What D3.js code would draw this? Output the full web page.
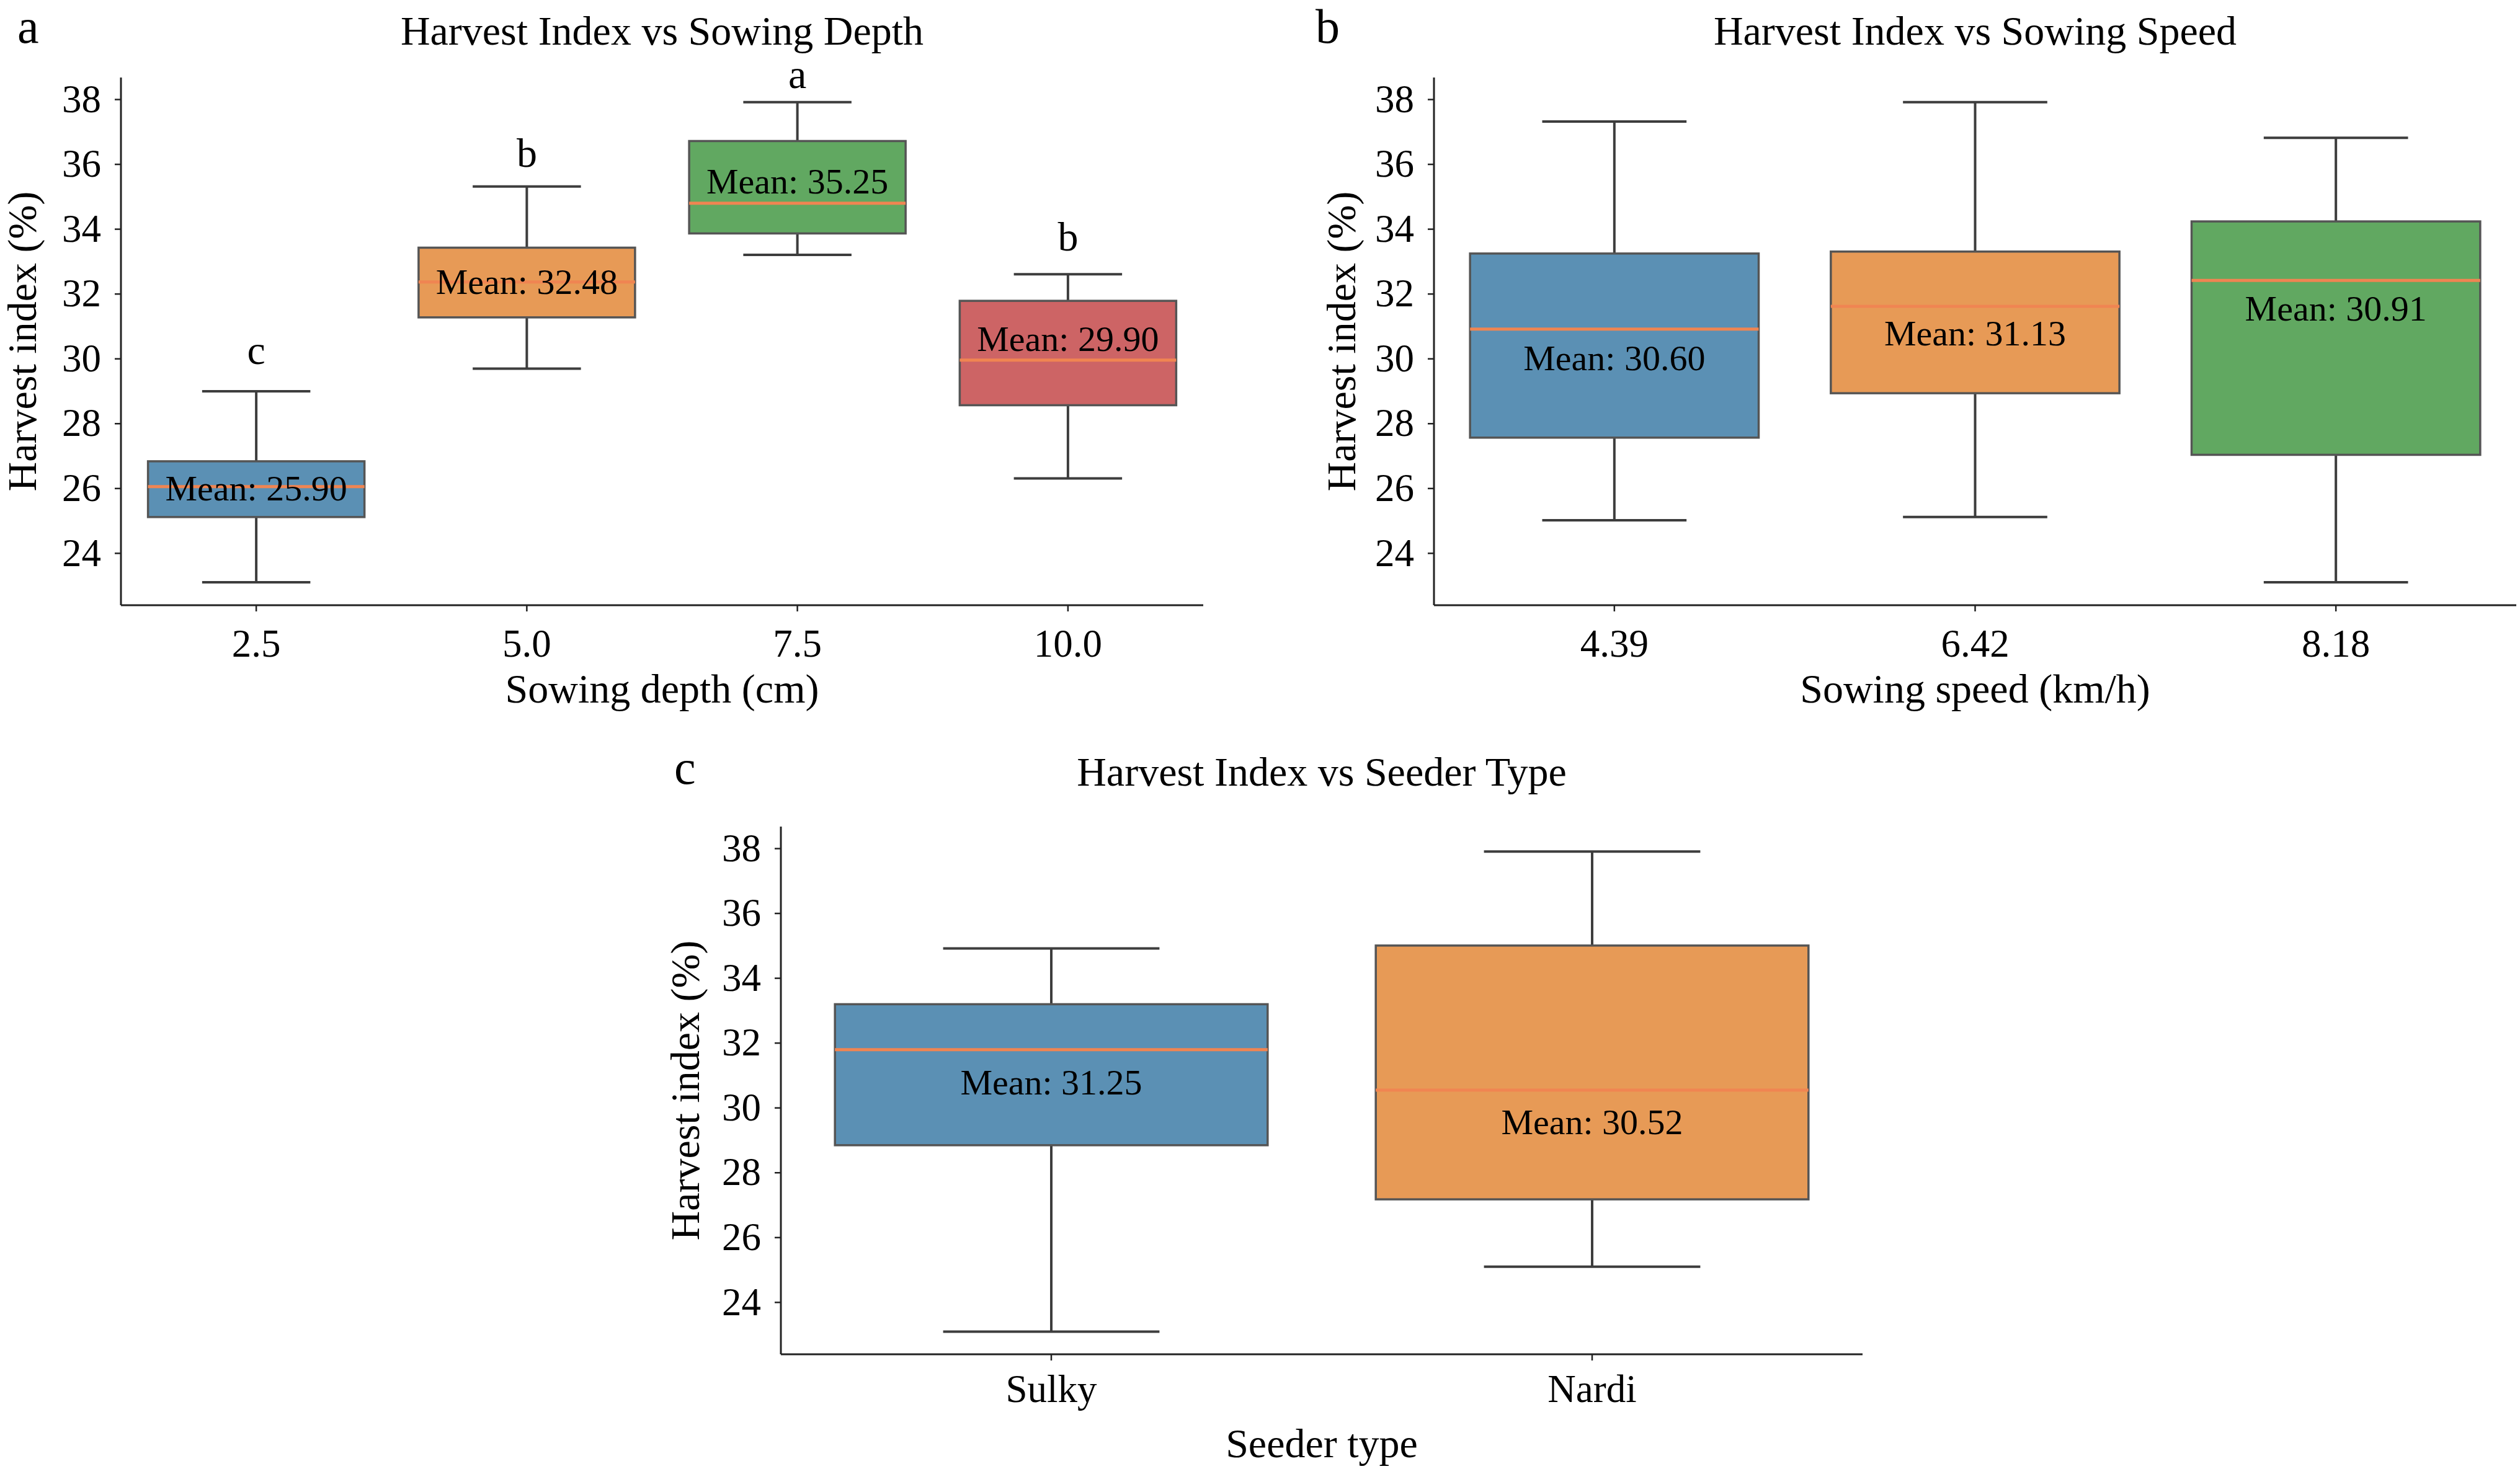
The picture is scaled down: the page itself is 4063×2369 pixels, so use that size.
<!DOCTYPE html>
<html>
<head>
<meta charset="utf-8">
<script src="https://cdn.jsdelivr.net/npm/d3@7"></script>
<style>
  html, body { margin: 0; padding: 0; background: #fff; }
  svg { display: block; }
  text { font-family: "Liberation Serif", "Times New Roman", serif; fill: #000; }
</style>
</head>
<body>
<svg id="chart" width="4063" height="2369"></svg>
<script>
// ── Data ────────────────────────────────────────────────────────────────────
// Panel a: sowing depth
const depthCats       = ["2.5", "5.0", "7.5", "10.0"];
const depthWhiskLow   = [23.10, 29.69, 33.20, 26.30];
const depthQ1         = [25.11, 31.27, 33.86, 28.56];
const depthMedian     = [26.05, 32.36, 34.79, 29.95];
const depthQ3         = [26.83, 33.42, 36.71, 31.78];
const depthWhiskHigh  = [28.99, 35.31, 37.91, 32.60];
const depthMeans      = [25.90, 32.48, 35.25, 29.90];
const depthMeanLabelY = [26.00, 32.36, 35.47, 30.60];
const depthLetters    = ["c", "b", "a", "b"];
const depthLetterY    = [29.84, 35.92, 38.34, 33.34];

// Panel b: sowing speed
const speedCats       = ["4.39", "6.42", "8.18"];
const speedWhiskLow   = [25.01, 25.11, 23.10];
const speedQ1         = [27.56, 28.93, 27.03];
const speedMedian     = [30.91, 31.61, 32.41];
const speedQ3         = [33.24, 33.30, 34.23];
const speedWhiskHigh  = [37.31, 37.91, 36.81];
const speedMeans      = [30.60, 31.13, 30.91];
const speedMeanLabelY = [30.02, 30.77, 31.55];

// Panel c: seeder type
const seederCats       = ["Sulky", "Nardi"];
const seederWhiskLow   = [23.09, 25.09];
const seederQ1         = [28.84, 27.17];
const seederMedian     = [31.79, 30.54];
const seederQ3         = [33.19, 35.00];
const seederWhiskHigh  = [34.91, 37.90];
const seederMeans      = [31.25, 30.52];
const seederMeanLabelY = [30.77, 29.56];

const yTicks   = [24, 26, 28, 30, 32, 34, 36, 38];
const yDomain  = [22.39, 38.67];
const palette  = ["#5b90b4", "#e79a56", "#61a861", "#cd6465"];

// ── Style ───────────────────────────────────────────────────────────────────
const FONT = '"Liberation Serif", "Times New Roman", serif';
const MEDIAN_COLOR = "#f08552";
const EDGE_COLOR   = "#555555";
const WHISK_COLOR  = "#3d3d3d";
const FS_TITLE = 66, FS_LABEL = 66, FS_TICK = 63, FS_MEAN = 58, FS_LETTER = 66, FS_PANEL = 78;

const svg = d3.select("#chart");

function drawPanel(cfg) {
  const { left, right, top, bottom } = cfg.box;

  const x = d3.scaleBand().domain(cfg.cats).range([left, right]).padding(0);
  const y = d3.scaleLinear().domain(yDomain).range([bottom, top]);
  const boxW = x.bandwidth() * 0.8;
  const capW = boxW * 0.5;

  const g = svg.append("g");

  // boxes
  cfg.cats.forEach((c, i) => {
    const cx = x(c) + x.bandwidth() / 2;
    // whiskers + caps
    [[cfg.q3[i], cfg.hi[i]], [cfg.q1[i], cfg.lo[i]]].forEach(([a, b]) => {
      g.append("line")
        .attr("x1", cx).attr("x2", cx)
        .attr("y1", y(a)).attr("y2", y(b))
        .attr("stroke", WHISK_COLOR).attr("stroke-width", 4);
      g.append("line")
        .attr("x1", cx - capW / 2).attr("x2", cx + capW / 2)
        .attr("y1", y(b)).attr("y2", y(b))
        .attr("stroke", WHISK_COLOR).attr("stroke-width", 4);
    });
    // box body
    g.append("rect")
      .attr("x", cx - boxW / 2)
      .attr("y", y(cfg.q3[i]))
      .attr("width", boxW)
      .attr("height", y(cfg.q1[i]) - y(cfg.q3[i]))
      .attr("fill", palette[i])
      .attr("stroke", EDGE_COLOR).attr("stroke-width", 3.5);
    // median
    g.append("line")
      .attr("x1", cx - boxW / 2).attr("x2", cx + boxW / 2)
      .attr("y1", y(cfg.median[i])).attr("y2", y(cfg.median[i]))
      .attr("stroke", MEDIAN_COLOR).attr("stroke-width", 5);
    // mean label
    g.append("text")
      .attr("x", cx).attr("y", y(cfg.meanLabelY[i]))
      .attr("text-anchor", "middle")
      .attr("dominant-baseline", "central")
      .attr("font-size", FS_MEAN)
      .text(`Mean: ${cfg.means[i].toFixed(2)}`);
    // significance letter
    if (cfg.letters) {
      g.append("text")
        .attr("x", cx).attr("y", y(cfg.letterY[i]))
        .attr("text-anchor", "middle")
        .attr("font-size", FS_LETTER)
        .text(cfg.letters[i]);
    }
  });

  // ── Axes ─────────────────────────────────────────────────────────────────
  const yAxis = g.append("g")
    .attr("transform", `translate(${left},0)`)
    .call(d3.axisLeft(y).tickValues(yTicks).tickSize(10).tickPadding(22).tickSizeOuter(0))
    .attr("font-family", FONT);
  yAxis.select(".domain").attr("stroke", "#222").attr("stroke-width", 3)
    .attr("d", `M0,${top}V${bottom}`);
  yAxis.selectAll(".tick line").attr("stroke", "#222").attr("stroke-width", 2.5);
  yAxis.selectAll(".tick text")
    .attr("font-size", FS_TICK).attr("fill", "#000");

  const xAxis = g.append("g")
    .attr("transform", `translate(0,${bottom})`)
    .call(d3.axisBottom(x).tickSize(10).tickPadding(0).tickSizeOuter(0))
    .attr("font-family", FONT);
  xAxis.select(".domain").attr("stroke", "#222").attr("stroke-width", 3)
    .attr("d", `M${left},0H${right}`);
  xAxis.selectAll(".tick line").attr("stroke", "#222").attr("stroke-width", 2.5);
  xAxis.selectAll(".tick text")
    .attr("font-size", FS_TICK).attr("fill", "#000")
    .attr("dy", null).attr("y", cfg.xTickBase);

  // x label
  g.append("text")
    .attr("x", (left + right) / 2).attr("y", bottom + cfg.xLabelBase)
    .attr("text-anchor", "middle").attr("font-size", FS_LABEL)
    .text(cfg.xLabel);

  // y label
  g.append("text")
    .attr("transform", `translate(${cfg.yLabelX},${(top + bottom) / 2}) rotate(-90)`)
    .attr("text-anchor", "middle").attr("font-size", FS_LABEL)
    .text("Harvest index (%)");

  // title
  g.append("text")
    .attr("x", (left + right) / 2).attr("y", cfg.titleBase)
    .attr("text-anchor", "middle").attr("font-size", FS_TITLE)
    .text(cfg.title);

  // panel letter
  g.append("text")
    .attr("x", cfg.panelX).attr("y", cfg.titleBase - 3)
    .attr("font-size", FS_PANEL)
    .text(cfg.panel);
}

drawPanel({
  box: { left: 195, right: 1940, top: 125, bottom: 976 },
  cats: depthCats, lo: depthWhiskLow, q1: depthQ1, median: depthMedian, q3: depthQ3, hi: depthWhiskHigh,
  means: depthMeans, meanLabelY: depthMeanLabelY, letters: depthLetters, letterY: depthLetterY,
  title: "Harvest Index vs Sowing Depth", xLabel: "Sowing depth (cm)", panel: "a",
  titleBase: 72, panelX: 28, yLabelX: 58, xTickBase: 83, xLabelBase: 157
});

drawPanel({
  box: { left: 2312, right: 4057, top: 125, bottom: 976 },
  cats: speedCats, lo: speedWhiskLow, q1: speedQ1, median: speedMedian, q3: speedQ3, hi: speedWhiskHigh,
  means: speedMeans, meanLabelY: speedMeanLabelY,
  title: "Harvest Index vs Sowing Speed", xLabel: "Sowing speed (km/h)", panel: "b",
  titleBase: 72, panelX: 2121, yLabelX: 2185, xTickBase: 83, xLabelBase: 157
});

drawPanel({
  box: { left: 1259, right: 3003, top: 1333, bottom: 2184 },
  cats: seederCats, lo: seederWhiskLow, q1: seederQ1, median: seederMedian, q3: seederQ3, hi: seederWhiskHigh,
  means: seederMeans, meanLabelY: seederMeanLabelY,
  title: "Harvest Index vs Seeder Type", xLabel: "Seeder type", panel: "c",
  titleBase: 1267, panelX: 1087, yLabelX: 1127, xTickBase: 77, xLabelBase: 166
});
</script>
</body>
</html>
